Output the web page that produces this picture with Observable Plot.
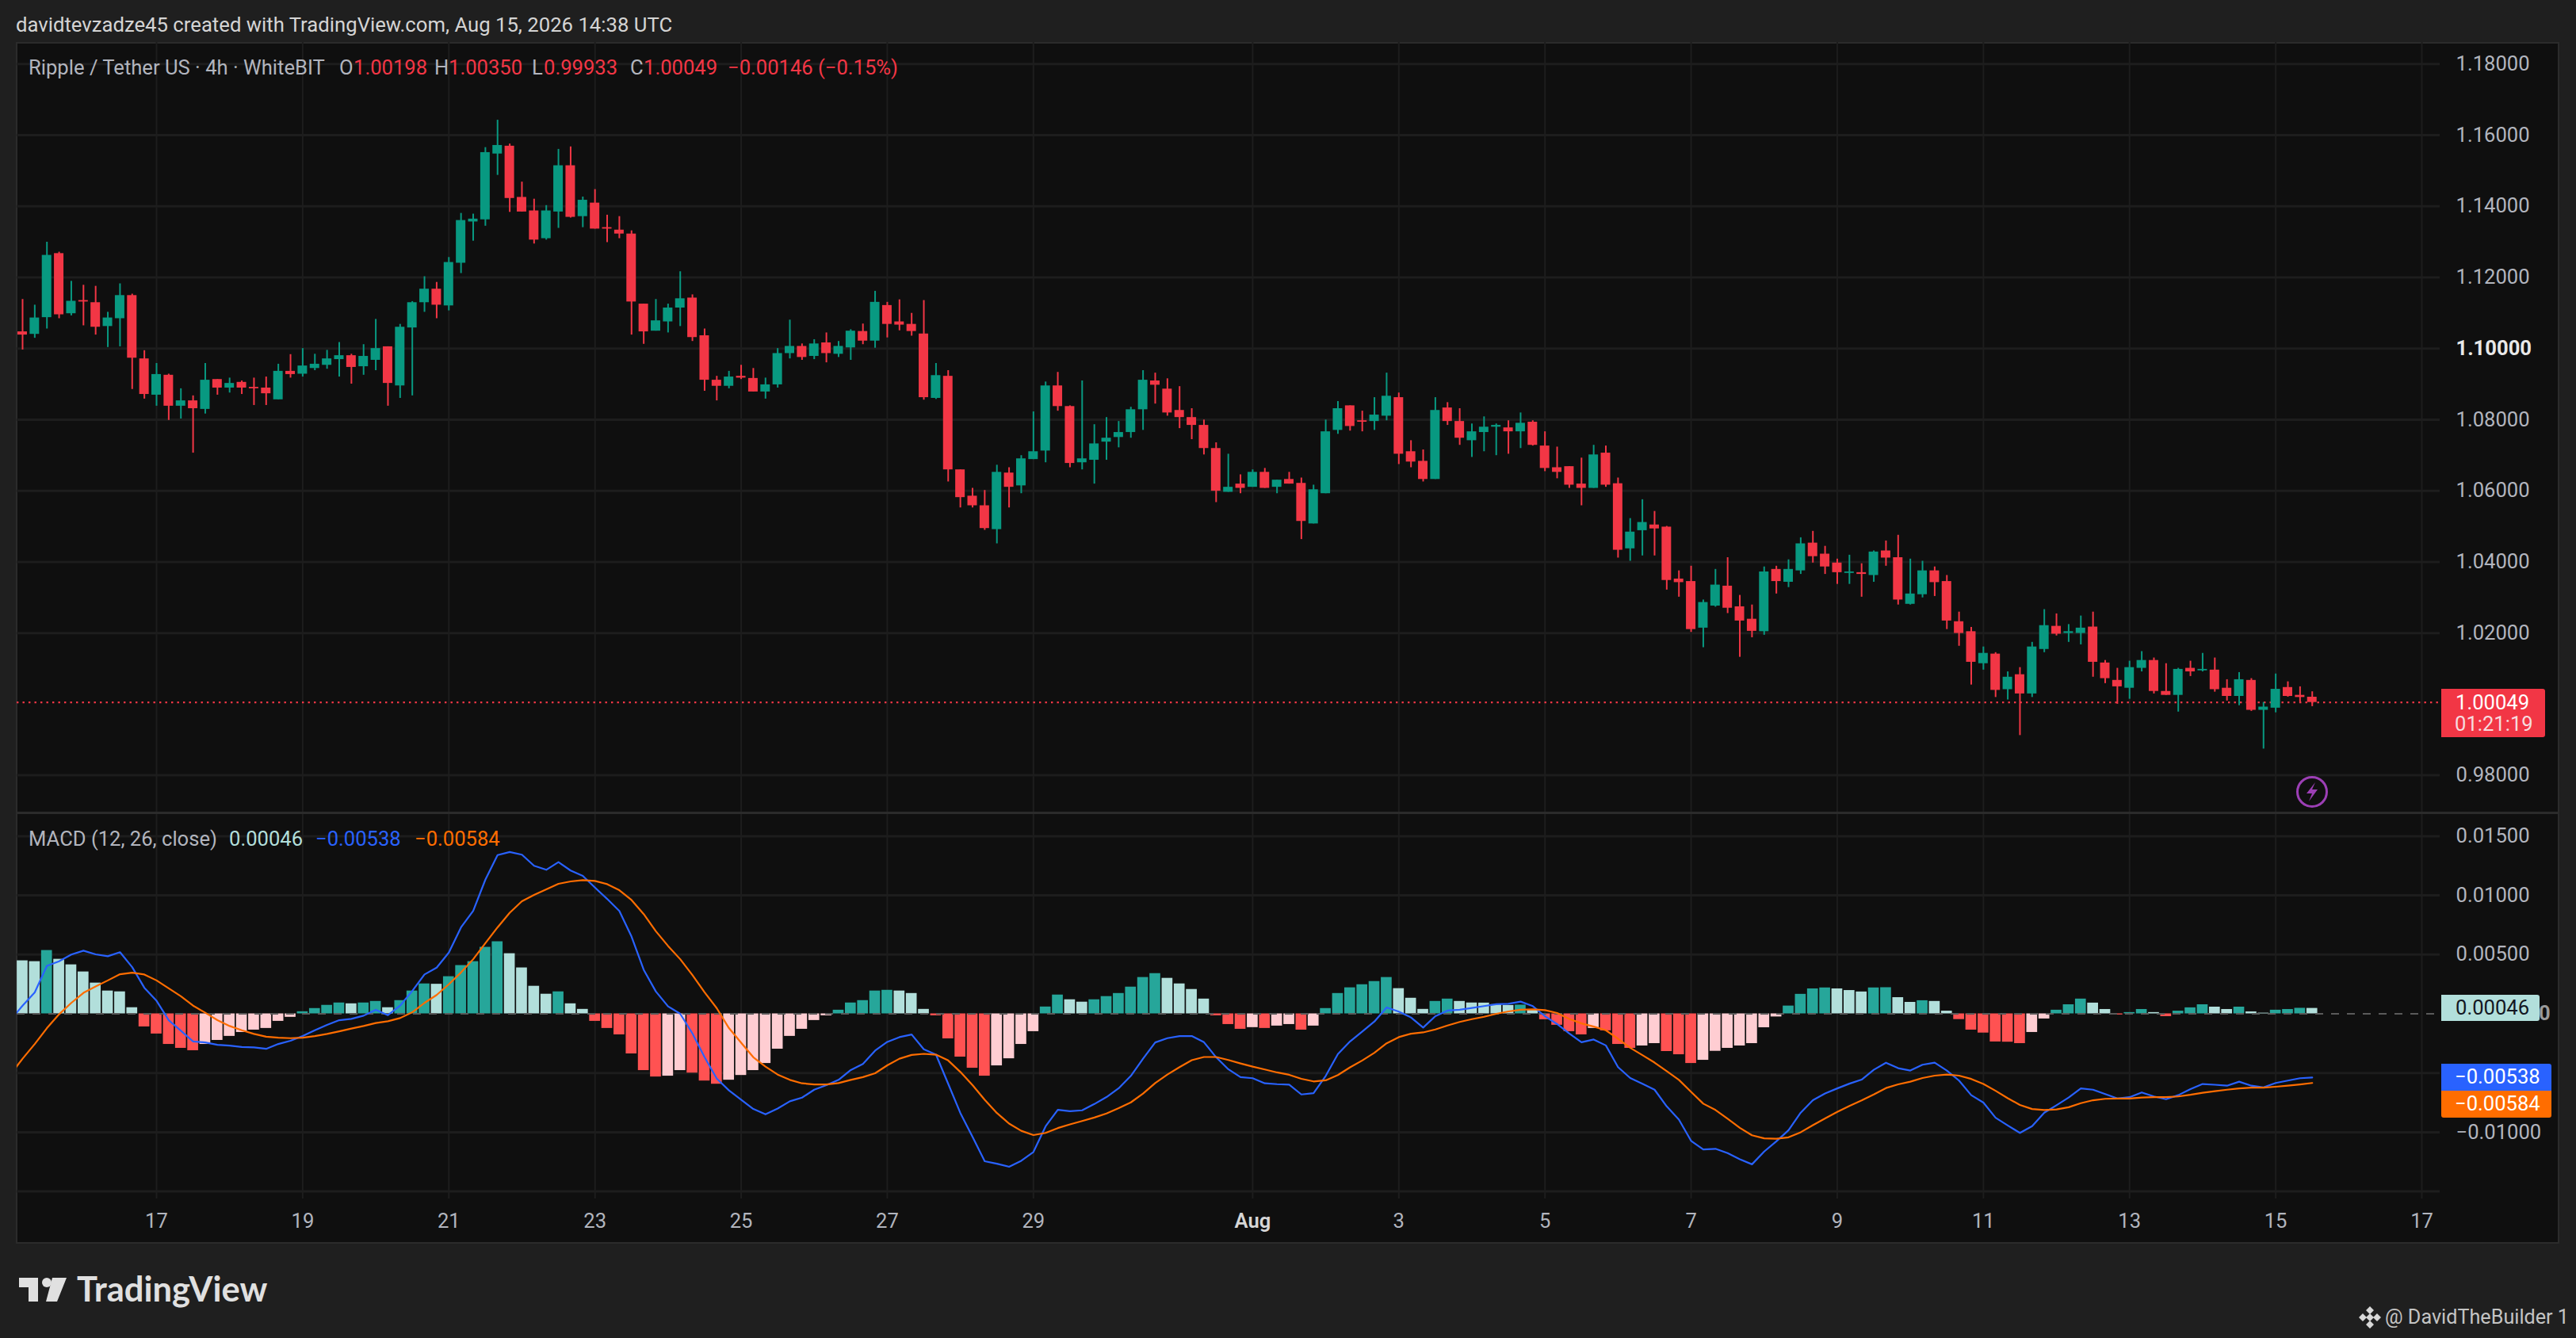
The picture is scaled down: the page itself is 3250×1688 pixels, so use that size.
<!DOCTYPE html>
<html><head><meta charset="utf-8">
<script src="https://cdn.jsdelivr.net/npm/d3@7"></script>
<script src="https://cdn.jsdelivr.net/npm/@observablehq/plot@0.6"></script>
<style>
html,body{margin:0;padding:0;background:#1f1f1f}
#page{position:relative;width:3250px;height:1688px;overflow:hidden;background:#1f1f1f;font-family:Roboto,sans-serif;font-size:25.6px}
#panel{position:absolute;left:20px;top:53px;width:3209px;height:1516px;background:#0f0f0f;box-sizing:border-box;border:2px solid #2b2b2b}
.t{position:absolute;white-space:pre;transform:translateY(-50%);line-height:1}
.box{position:absolute}
svg{display:block}
</style></head><body><div id="page"><div id="panel"></div></div>
<script>
const open = [
1.1047,1.1040,1.1087,1.1267,1.1098,1.1135,1.1129,1.1062,1.1084,1.1149,
1.0971,1.0869,1.0925,1.0838,1.0853,1.0829,1.0913,1.0889,1.0905,1.0891,
1.0889,1.0856,1.0936,1.0928,1.0944,1.0953,1.0969,1.0980,1.0949,1.0967,
1.1005,1.0895,1.1058,1.1129,1.1167,1.1120,1.1240,1.1356,1.1362,1.1547,
1.1569,1.1425,1.1387,1.1309,1.1384,1.1514,1.1371,1.1409,1.1340,1.1333,
1.1322,1.1125,1.1049,1.1075,1.1114,1.1142,1.1036,1.0911,1.0894,1.0922,
1.0916,1.0878,1.0898,1.0986,1.1006,1.0978,1.1016,1.0984,1.1002,1.1048,
1.1021,1.1121,1.1075,1.1068,1.1041,1.0860,1.0922,1.0659,1.0585,1.0558,
1.0491,1.0650,1.0614,1.0688,1.0712,1.0895,1.0837,1.0679,1.0686,1.0737,
1.0750,1.0764,1.0828,1.0909,1.0886,1.0826,1.0806,1.0784,1.0719,1.0596,
1.0619,1.0610,1.0652,1.0610,1.0632,1.0621,1.0507,1.0592,1.0770,1.0839,
1.0797,1.0795,1.0810,1.0862,1.0710,1.0683,1.0632,1.0833,1.0795,1.0741,
1.0764,1.0779,1.0777,1.0766,1.0793,1.0726,1.0665,1.0668,1.0619,1.0607,
1.0706,1.0620,1.0437,1.0488,1.0504,1.0498,1.0352,1.0345,1.0214,1.0276,
1.0332,1.0274,1.0239,1.0204,1.0379,1.0343,1.0375,1.0453,1.0422,1.0397,
1.0368,1.0370,1.0362,1.0431,1.0412,1.0281,1.0308,1.0375,1.0345,1.0232,
1.0204,1.0114,1.0141,1.0041,1.0083,1.0029,1.0154,1.0219,1.0199,1.0199,
1.0217,1.0116,1.0067,1.0045,1.0101,1.0123,1.0036,1.0025,1.0101,1.0094,
1.0096,1.0045,1.0022,1.0067,0.9983,0.9989,1.0047,1.0025,1.00198];
const high = [
1.1138,1.1122,1.1299,1.1271,1.1189,1.1178,1.1175,1.1102,1.1182,1.1153,
1.0994,1.0958,1.0928,1.0887,1.0867,1.0958,1.0913,1.0917,1.0909,1.0917,
1.0920,1.0956,1.0983,1.1000,1.0984,1.0995,1.1017,1.0984,1.1011,1.1082,
1.1005,1.1068,1.1132,1.1202,1.1186,1.1256,1.1380,1.1378,1.1565,1.1642,
1.1575,1.1468,1.1420,1.1402,1.1560,1.1567,1.1426,1.1447,1.1375,1.1371,
1.1331,1.1125,1.1138,1.1125,1.1216,1.1151,1.1055,1.0922,1.0936,1.0953,
1.0944,1.0917,1.1000,1.1080,1.1013,1.1025,1.1044,1.1020,1.1053,1.1069,
1.1161,1.1130,1.1137,1.1099,1.1135,1.0958,1.0938,1.0659,1.0607,1.0601,
1.0672,1.0665,1.0699,1.0822,1.0906,1.0933,1.0839,1.0909,1.0786,1.0806,
1.0795,1.0835,1.0938,1.0931,1.0915,1.0893,1.0831,1.0799,1.0735,1.0703,
1.0645,1.0659,1.0663,1.0630,1.0652,1.0636,1.0616,1.0799,1.0851,1.0839,
1.0824,1.0862,1.0931,1.0875,1.0741,1.0715,1.0862,1.0848,1.0831,1.0788,
1.0808,1.0788,1.0797,1.0819,1.0797,1.0766,1.0723,1.0668,1.0692,1.0728,
1.0726,1.0636,1.0522,1.0575,1.0542,1.0500,1.0375,1.0388,1.0293,1.0379,
1.0412,1.0306,1.0279,1.0386,1.0388,1.0406,1.0468,1.0486,1.0444,1.0408,
1.0419,1.0395,1.0431,1.0459,1.0475,1.0408,1.0402,1.0386,1.0362,1.0259,
1.0216,1.0161,1.0145,1.0091,1.0103,1.0174,1.0266,1.0254,1.0224,1.0248,
1.0259,1.0123,1.0101,1.0121,1.0148,1.0130,1.0114,1.0101,1.0121,1.0143,
1.0130,1.0069,1.0089,1.0072,1.0005,1.0085,1.0063,1.0049,1.0035];
const low = [
1.0996,1.1029,1.1055,1.1084,1.1092,1.1064,1.1038,1.1003,1.1005,1.0885,
1.0858,1.0838,1.0798,1.0802,1.0706,1.0816,1.0869,1.0875,1.0871,1.0840,
1.0840,1.0856,1.0917,1.0920,1.0938,1.0942,1.0920,1.0900,1.0925,1.0938,
1.0838,1.0860,1.0867,1.1102,1.1084,1.1106,1.1211,1.1302,1.1344,1.1487,
1.1383,1.1384,1.1294,1.1305,1.1338,1.1367,1.1340,1.1336,1.1298,1.1309,
1.1038,1.1012,1.1049,1.1044,1.1062,1.1020,1.0880,1.0853,1.0887,1.0913,
1.0878,1.0858,1.0889,1.0971,1.0967,1.0969,1.0960,1.0975,1.0967,1.1011,
1.1001,1.1030,1.1050,1.1035,1.0855,1.0857,1.0625,1.0552,1.0552,1.0489,
1.0451,1.0552,1.0592,1.0688,1.0679,1.0824,1.0665,1.0659,1.0619,1.0686,
1.0721,1.0748,1.0770,1.0844,1.0810,1.0775,1.0744,1.0701,1.0567,1.0596,
1.0592,1.0610,1.0607,1.0592,1.0619,1.0463,1.0507,1.0592,1.0759,1.0768,
1.0766,1.0770,1.0797,1.0674,1.0665,1.0625,1.0632,1.0784,1.0728,1.0694,
1.0710,1.0699,1.0703,1.0719,1.0726,1.0654,1.0634,1.0607,1.0558,1.0607,
1.0610,1.0411,1.0402,1.0417,1.0417,1.0321,1.0301,1.0202,1.0159,1.0273,
1.0255,1.0132,1.0187,1.0194,1.0310,1.0328,1.0365,1.0397,1.0365,1.0337,
1.0337,1.0301,1.0343,1.0388,1.0279,1.0279,1.0299,1.0303,1.0210,1.0163,
1.0054,1.0096,1.0019,1.0012,0.9912,1.0019,1.0145,1.0192,1.0174,1.0167,
1.0076,1.0058,1.0000,1.0014,1.0091,1.0029,1.0025,0.9978,1.0078,1.0091,
1.0034,1.0009,0.9996,0.9980,0.9874,0.9976,1.0020,1.0002,0.99933];
const close = [
1.1038,1.1086,1.1262,1.1095,1.1133,1.1131,1.1060,1.1086,1.1149,1.0973,
1.0871,1.0927,1.0838,1.0853,1.0831,1.0911,1.0889,1.0902,1.0889,1.0887,
1.0873,1.0936,1.0927,1.0951,1.0956,1.0971,1.0980,1.0947,1.0978,1.1000,
1.0902,1.1060,1.1129,1.1167,1.1122,1.1242,1.1360,1.1364,1.1551,1.1571,
1.1422,1.1384,1.1305,1.1387,1.1514,1.1369,1.1417,1.1336,1.1336,1.1322,
1.1131,1.1047,1.1078,1.1114,1.1140,1.1031,1.0911,1.0894,1.0920,1.0917,
1.0878,1.0898,1.0986,1.1006,1.0975,1.1013,1.0986,1.1006,1.1049,1.1021,
1.1130,1.1068,1.1066,1.1048,1.0862,1.0924,1.0659,1.0581,1.0558,1.0494,
1.0652,1.0610,1.0690,1.0710,1.0895,1.0837,1.0677,1.0690,1.0732,1.0748,
1.0764,1.0828,1.0911,1.0897,1.0819,1.0806,1.0784,1.0719,1.0599,1.0610,
1.0607,1.0652,1.0607,1.0630,1.0619,1.0514,1.0603,1.0766,1.0831,1.0781,
1.0793,1.0813,1.0866,1.0703,1.0681,1.0632,1.0826,1.0795,1.0748,1.0766,
1.0779,1.0784,1.0766,1.0790,1.0728,1.0663,1.0652,1.0616,1.0607,1.0701,
1.0616,1.0433,1.0484,1.0511,1.0493,1.0348,1.0342,1.0210,1.0286,1.0335,
1.0270,1.0234,1.0205,1.0372,1.0345,1.0379,1.0451,1.0415,1.0386,1.0370,
1.0372,1.0365,1.0428,1.0411,1.0293,1.0310,1.0375,1.0342,1.0234,1.0199,
1.0118,1.0143,1.0039,1.0076,1.0029,1.0161,1.0221,1.0197,1.0204,1.0214,
1.0118,1.0072,1.0049,1.0103,1.0123,1.0036,1.0025,1.0098,1.0091,1.0098,
1.0041,1.0022,1.0069,0.9983,0.9992,1.0042,1.0022,1.0019,1.00049];

// MACD pane values, in units of 0.00001
const histogram = [
448,441,535,461,414,354,260,193,186,52,
-110,-170,-258,-291,-311,-258,-224,-190,-157,-137,
-123,-63,-29,18,45,72,92,85,92,105,
52,112,193,253,250,314,408,441,562,609,
508,388,233,166,186,85,38,-63,-123,-177,
-338,-479,-533,-526,-479,-500,-567,-594,-560,-520,
-479,-419,-298,-190,-130,-56,-16,31,92,112,
193,199,193,172,38,-16,-211,-365,-459,-526,
-439,-379,-258,-150,58,159,119,99,119,146,
172,226,307,340,300,253,206,125,-16,-90,
-130,-116,-123,-103,-90,-137,-103,45,172,220,
246,273,307,213,132,38,105,125,105,92,
91,78,71,74,31,-49,-96,-150,-177,-123,
-143,-258,-291,-271,-251,-318,-345,-419,-392,-316,
-291,-271,-251,-117,-26,66,165,211,219,211,
197,185,219,221,137,97,111,105,23,-48,
-137,-162,-237,-239,-251,-157,-43,31,77,125,
91,37,-9,11,37,11,-23,23,51,77,
57,37,57,17,6,31,37,47,46];
// both lines carry one extra leading value for the bar just left of the pane
const macdLine = [-54,
69,181,405,444,500,533,502,486,520,394,
220,110,-54,-143,-233,-242,-262,-269,-280,-284,
-296,-255,-228,-188,-139,-94,-54,-43,-16,34,
-11,69,193,332,390,517,730,869,1133,1340,
1366,1344,1250,1216,1281,1210,1165,1066,970,869,
652,372,188,63,0,-166,-367,-547,-647,-726,
-804,-849,-800,-739,-708,-641,-603,-558,-475,-423,
-311,-237,-197,-175,-300,-345,-591,-838,-1039,-1245,
-1266,-1292,-1241,-1167,-950,-811,-822,-815,-762,-703,
-629,-524,-379,-242,-206,-188,-188,-240,-367,-468,
-535,-544,-587,-594,-598,-681,-670,-524,-340,-233,
-150,-65,54,18,-31,-116,-20,27,34,49,
65,81,85,103,65,-20,-87,-166,-240,-217,
-267,-450,-542,-591,-641,-782,-894,-1073,-1145,-1140,
-1177,-1228,-1271,-1163,-1077,-983,-835,-730,-673,-630,
-590,-556,-473,-413,-459,-479,-430,-413,-479,-564,
-687,-750,-878,-943,-1006,-949,-835,-772,-707,-630,
-641,-678,-715,-704,-664,-698,-721,-687,-636,-593,
-599,-607,-573,-607,-621,-584,-564,-544,-538];
const signalLine = [-513,
-379,-255,-121,-4,92,177,231,282,334,347,
332,282,215,148,69,9,-54,-103,-139,-170,
-193,-202,-206,-202,-188,-170,-148,-125,-103,-78,
-63,-36,13,92,159,249,349,461,596,730,
853,950,1004,1051,1098,1118,1129,1122,1095,1044,
961,842,697,573,461,327,181,47,-121,-244,
-367,-446,-513,-558,-587,-596,-596,-585,-558,-535,
-502,-435,-379,-347,-338,-345,-394,-491,-603,-726,
-838,-927,-988,-1024,-1006,-965,-934,-905,-876,-842,
-797,-748,-674,-585,-513,-450,-392,-365,-365,-390,
-419,-446,-470,-495,-515,-549,-571,-562,-517,-452,
-394,-329,-249,-197,-168,-157,-132,-99,-69,-45,
-25,0,20,34,38,31,7,-43,-81,-108,
-139,-211,-287,-349,-412,-484,-558,-659,-759,-812,
-886,-963,-1026,-1052,-1055,-1043,-1000,-941,-884,-829,
-778,-732,-681,-627,-596,-573,-542,-522,-513,-522,
-550,-593,-650,-713,-770,-804,-812,-807,-789,-755,
-730,-718,-715,-715,-707,-704,-704,-698,-684,-667,
-653,-641,-630,-624,-624,-616,-607,-596,-584];

const priceTicks = [1.18,1.16,1.14,1.12,1.08,1.06,1.04,1.02,0.98];
const priceBoldTick = [1.10];
const macdTicks = [0.015,0.01,0.005,-0.01];
const macdGrid = [0.015,0.01,0.005,-0.005,-0.01,-0.015];
const dateTicks = [[6,17],[6,19],[6,21],[6,23],[6,25],[6,27],[6,29],[7,3],[7,5],[7,7],[7,9],[7,11],[7,13],[7,15],[7,17]].map(([m,d])=>new Date(Date.UTC(2026,m,d)));
const augTick = [new Date(Date.UTC(2026,7,1))];
const allDates = [...dateTicks,...augTick];
const lastPrice = 1.00049;

const H = 3600e3;
const firstBar = Date.UTC(2026,6,15,4);
const bars = open.map((o,i)=>({t:new Date(firstBar+i*4*H),open:o,high:high[i],low:low[i],close:close[i]}));
const histRows = histogram.map((v,i)=>{
  const prev = i ? histogram[i-1] : 999;
  const c = v>=0 ? (v>prev ? "#26A69A" : "#B2DFDB") : (v<prev ? "#FF5252" : "#FFCDD2");
  return {t:new Date(firstBar+i*4*H),v:v/1e5,c};
});
const lineRows = arr => arr.map((v,i)=>({t:new Date(firstBar+(i-1)*4*H),v:v/1e5}));

const UP="#089981", DOWN="#F23645", GRID="#1d1d1d";
const xDomain=[new Date(Date.UTC(2026,6,15,2,11)),new Date(Date.UTC(2026,7,17,5,59))];
const common = {width:3250,marginLeft:21,marginRight:172,marginTop:0,
  style:{background:"transparent",fontFamily:"Roboto, sans-serif",fontSize:"25.6px",color:"#b2b5be",overflow:"visible"},
  color:{type:"identity"}};
const xScale = {type:"utc",domain:xDomain,axis:null};
const fmt = d=>d.toFixed(5).replace("-","\u2212");
const candleColor = d=>d.close>=d.open?UP:DOWN;
const offset=(t,h)=>new Date(+t+h*H);

const pricePlot = Plot.plot({...common,height:972,marginBottom:0,
  x:xScale,
  y:{type:"linear",domain:[0.96944,1.18606],range:[972,0],axis:null},
  marks:[
    Plot.gridX({ticks:allDates,stroke:GRID,strokeOpacity:1,strokeWidth:2}),
    Plot.gridY({ticks:[...priceTicks,...priceBoldTick],stroke:GRID,strokeOpacity:1,strokeWidth:3}),
    Plot.ruleY([lastPrice],{stroke:DOWN,strokeWidth:2.4,strokeDasharray:"2.4 5.1"}),
    Plot.ruleX(bars,{x:"t",y1:"low",y2:"high",stroke:candleColor,strokeWidth:2}),
    Plot.rect(bars,{x1:d=>offset(d.t,-1.56),x2:d=>offset(d.t,1.56),y1:"open",y2:"close",fill:candleColor}),
    Plot.axisY({ticks:priceTicks,anchor:"right",tickSize:0,tickPadding:20,tickFormat:fmt,label:null,fill:"#b2b5be"}),
    Plot.axisY({ticks:priceBoldTick,anchor:"right",tickSize:0,tickPadding:20,tickFormat:fmt,label:null,fill:"#e8e8e8",fontWeight:700})
  ]});
pricePlot.style.position="absolute";pricePlot.style.left="0";pricePlot.style.top="53px";

const macdPlot = Plot.plot({...common,height:542,marginBottom:55,
  x:xScale,
  y:{type:"linear",domain:[-0.01563,0.016968],axis:null},
  marks:[
    Plot.gridX({ticks:allDates,stroke:GRID,strokeOpacity:1,strokeWidth:2}),
    Plot.gridY({ticks:macdGrid,stroke:GRID,strokeOpacity:1,strokeWidth:3}),
    Plot.rect(histRows,{x1:d=>offset(d.t,-1.78),x2:d=>offset(d.t,1.78),y1:0,y2:"v",fill:"c"}),
    Plot.ruleY([0],{stroke:"#5a5a5a",strokeWidth:2,strokeDasharray:"10 10"}),
    Plot.line(lineRows(macdLine),{x:"t",y:"v",stroke:"#2962FF",strokeWidth:2.2,clip:true}),
    Plot.line(lineRows(signalLine),{x:"t",y:"v",stroke:"#FF6D00",strokeWidth:2.2,clip:true}),
    Plot.axisY({ticks:macdTicks,anchor:"right",tickSize:0,tickPadding:20,tickFormat:fmt,label:null,fill:"#b2b5be"}),
    Plot.axisX({ticks:dateTicks,anchor:"bottom",tickSize:0,tickPadding:18,tickFormat:d=>String(d.getUTCDate()),label:null,fill:"#b2b5be"}),
    Plot.axisX({ticks:augTick,anchor:"bottom",tickSize:0,tickPadding:18,tickFormat:()=>"Aug",label:null,fill:"#d6d6d6",fontWeight:600})
  ]});
macdPlot.style.position="absolute";macdPlot.style.left="0";macdPlot.style.top="1025px";

const page=document.getElementById("page");
page.append(pricePlot,macdPlot);

function box(x,y,w,h,bg,extra){const d=document.createElement("div");d.className="box";
  d.style.cssText=`left:${x}px;top:${y}px;width:${w}px;height:${h}px;background:${bg};${extra||""}`;page.append(d);}
function tx(s,x,y,color,extra){const d=document.createElement("div");d.className="t";d.textContent=s;
  d.style.cssText=`left:${x}px;top:${y}px;color:${color};${extra||""}`;page.append(d);}

// pane separator
box(21,1024,3207,3,"#2b2b2b");
// header
tx("davidtevzadze45 created with TradingView.com, Aug 15, 2026 14:38 UTC",20,32,"#d4d4d4","font-size:25.7px");
// OHLC legend
const G="#b2b5be",R=DOWN;
tx("Ripple / Tether US · 4h · WhiteBIT",36,86,G);
tx("O",428,86,G);tx("1.00198",446,86,R);
tx("H",548,86,G);tx("1.00350",566,86,R);
tx("L",671,86,G);tx("0.99933",686,86,R);
tx("C",795,86,G);tx("1.00049",812,86,R);
tx("\u22120.00146 (\u22120.15%)",918,86,R);
// MACD legend
tx("MACD (12, 26, close)",36,1059,G);
tx("0.00046",289,1059,"#B2DFDB");
tx("\u22120.00538",398,1059,"#2962FF");
tx("\u22120.00584",523,1059,"#FF6D00");
// last price tag
box(3080,869,131,61,DOWN,"border-radius:0 3px 3px 0");
tx("1.00049",3098,887,"#fff");
tx("01:21:19",3097,914,"#f6dcdf");
// MACD value tags
tx("0",3203,1279,"#9a9a9a","font-weight:700");
box(3080,1255,124,33,"#B2DFDB","border-radius:0 3px 3px 0");
tx("0.00046",3098,1272,"#131722");
box(3080,1342,139,34,"#2962FF","border-radius:0 3px 0 0");
tx("\u22120.00538",3097,1359,"#fff");
box(3080,1376,139,34,"#FF6D00","border-radius:0 0 3px 3px");
tx("\u22120.00584",3097,1393,"#fff");
// footer text
tx("TradingView",97,1626,"#e0e0e0","font-family:Lato,sans-serif;font-weight:700;font-size:43.5px");
tx("@ DavidTheBuilder 1",3009,1662,"#c4c4c4","font-size:25.2px");
// decorative glyphs
const glyphs=document.createElement("div");
glyphs.innerHTML=`<svg style="position:absolute;left:0;top:0" width="3250" height="1688" fill="none">
<circle cx="2917" cy="999" r="18.5" stroke="#9C3FB5" stroke-width="3"/>
<path d="M2921 987 L2910 1001 L2917 1001 L2913 1011 L2924 996 L2917 996 Z" fill="#9C3FB5"/>
<g fill="#e0e0e0"><path d="M24 1612H48V1642H36V1624H24Z"/><circle cx="59" cy="1618" r="6"/><path d="M66 1612H84L72 1642H58Z"/></g>
<g fill="#d8d8d8"><path d="M2990 1648l5 5-5 5-5-5zM2990 1666l5 5-5 5-5-5zM2981 1657l5 5-5 5-5-5zM2999 1657l5 5-5 5-5-5zM2990 1657l5 5-5 5-5-5z"/></g>
</svg>`;
page.append(glyphs);
</script></body></html>
